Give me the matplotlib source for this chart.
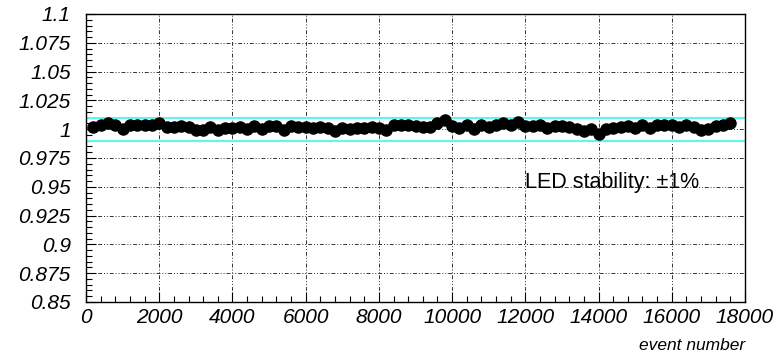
import numpy as np
import matplotlib.pyplot as plt
from matplotlib.ticker import MultipleLocator, FixedLocator, FuncFormatter

# LED stability data: relative response vs event number
events = list(range(200, 17601, 200))
response = [
    1.002, 1.004, 1.005, 1.004, 1.000, 1.004, 1.004, 1.004, 1.004, 1.005,
    1.002, 1.002, 1.003, 1.002, 0.999, 0.999, 1.002, 0.999, 1.001, 1.001,
    1.002, 1.000, 1.003, 1.000, 1.003, 1.003, 0.999, 1.003, 1.002, 1.002,
    1.001, 1.002, 1.001, 0.998, 1.001, 1.000, 1.001, 1.001, 1.002, 1.001,
    0.999, 1.004, 1.004, 1.004, 1.003, 1.002, 1.002, 1.005, 1.008, 1.003,
    1.001, 1.004, 1.000, 1.004, 1.002, 1.004, 1.005, 1.004, 1.006, 1.003,
    1.003, 1.004, 1.001, 1.003, 1.003, 1.002, 1.000, 0.998, 1.000, 0.996,
    1.000, 1.001, 1.002, 1.003, 1.001, 1.004, 1.001, 1.004, 1.004, 1.004,
    1.002, 1.004, 1.002, 0.999, 1.000, 1.003, 1.004, 1.005,
]
band = [0.99, 1.01]
x_range = [0, 18000]
y_range = [0.85, 1.1]
x_ticks = [0, 2000, 4000, 6000, 8000, 10000, 12000, 14000, 16000, 18000]
y_ticks = [0.85, 0.875, 0.9, 0.925, 0.95, 0.975, 1.0, 1.025, 1.05, 1.075, 1.1]

plt.rcParams["font.family"] = ["Liberation Sans", "DejaVu Sans"]

fig = plt.figure(figsize=(7.77, 3.55), dpi=100)
ax = fig.add_axes([0.1107, 0.1493, 0.8481, 0.8113])

# ROOT-style dash-dot-dot grid
grid_style = dict(color="#333333", linewidth=0.7, linestyle=(0, (4, 2, 1, 2, 1, 2)), zorder=1)
for xv in x_ticks[1:-1]:
    ax.axvline(xv, **grid_style)
for yv in y_ticks[1:-1]:
    ax.axhline(yv, **grid_style)

for b in band:
    ax.axhline(b, color="#5ff5f5", linewidth=1.5, zorder=2)

ax.plot(events, response, "o", color="black", markersize=8, zorder=3)

ax.text(12000, 0.954, "LED stability: \u00b11%", fontsize=15.5, va="center", ha="left", zorder=4)

ax.set_xlim(x_range)
ax.set_ylim(y_range)
ax.xaxis.set_major_locator(FixedLocator(x_ticks))
ax.xaxis.set_minor_locator(MultipleLocator(400))
ax.yaxis.set_major_locator(FixedLocator(y_ticks))
ax.yaxis.set_minor_locator(MultipleLocator(0.005))
ax.xaxis.set_major_formatter(FuncFormatter(lambda v, p: f"{int(v)}"))
ax.yaxis.set_major_formatter(FuncFormatter(lambda v, p: f"{v:g}"))

ax.tick_params(which="both", direction="in", top=False, right=False, width=0.8)
ax.tick_params(which="major", length=7)
ax.tick_params(which="minor", length=4)
ax.tick_params(axis="both", labelsize=15)
ax.tick_params(axis="y", pad=11)
ax.tick_params(axis="x", pad=4)
for lab in ax.get_xticklabels() + ax.get_yticklabels():
    lab.set_style("italic")

for s in ax.spines.values():
    s.set_linewidth(1.0)

fig.text(0.959, 0.005, "event number", fontsize=12.5, style="italic", ha="right", va="bottom")

fig.savefig("out.png", dpi=100)
